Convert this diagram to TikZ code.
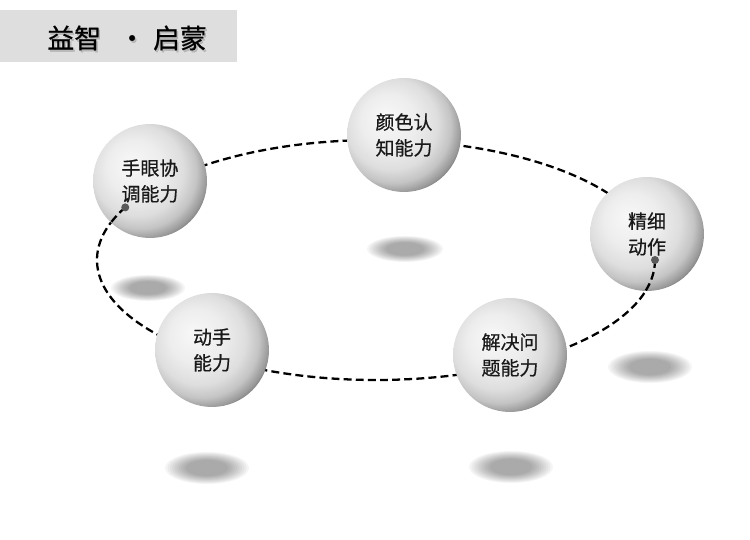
\documentclass[tikz,border=0pt]{standalone}
\usepackage{fontspec}
\setmainfont{Noto Sans CJK SC}
\newfontface\heavyface{Noto Sans CJK SC}[FakeBold=0.6]
\usetikzlibrary{positioning}
\pgfdeclareradialshading{sphere}{\pgfpoint{-9bp}{8bp}}{color(0bp)=(white!97!black); color(12bp)=(white!93!black); color(20bp)=(white!87!black); color(25bp)=(white!77!black); color(28.7bp)=(white!60!black); color(30.5bp)=(white!46!black); color(33bp)=(white!40!black); color(50bp)=(white!40!black)}
\tikzset{
    skill/.style={circle, shading=sphere, minimum size=2.28cm, inner sep=0pt, align=center, text=black!90, font=\heavyface\fontsize{10.8}{14.7}\selectfont},
    puddle/.style={fill=black, opacity=0.04},
    orbitline/.style={draw=black, line width=1.3pt, dash pattern=on 4.5pt off 2.4pt},
    tipdot/.style={fill=black!65},
    banner/.style={fill=black!13, minimum width=4.74cm, minimum height=1.04cm, inner sep=0pt},
    headline/.style={anchor=west, inner sep=0pt, font=\heavyface\fontsize{15.3}{18}\selectfont}
}
\newcommand{\headtext}{益智\makebox[1.04cm]{\hspace{0.2cm}·}启蒙}
% soft floor shadow: centre, x radius, y radius
\newcommand{\floorshade}[4]{%
  \foreach \k in {0,...,9}
    \fill[puddle] (#1,#2) ellipse [x radius={#3*(1-0.055*\k)}, y radius={#4*(1-0.055*\k)}];
}

\begin{document}
\begin{tikzpicture}[x=0.02cm, y=0.02cm]
\useasboundingbox (0,0) rectangle (750,540);

% Title
\node (band) [banner] at (118.5,504) {};
\node [headline, text=black!45, opacity=0.45] at (48.5,500) {\headtext};
\node (title) [headline] at (47,502) {\headtext};

% Shadows on the floor
\floorshade{405}{291}{38}{13}
\floorshade{148}{252}{37}{13}
\floorshade{650}{173}{42}{16}
\floorshade{207}{72}{42}{16}
\floorshade{511}{73}{42}{16}

% Orbit
\coordinate (orbit) at (376,280);
\draw[orbitline] (orbit) ellipse [x radius=279, y radius=120];

% Skills
\node (colour) [skill] at (404,405) {颜色认\\知能力};
\node (handeye) [skill] at (150,359) {手眼协\\调能力};
\node (fine) [skill] at (647,306) {精细\\动作};
\node (handson) [skill] at (212,190) {动手\\能力};
\node (solve) [skill] at (510,185) {解决问\\题能力};

% Orbit ends in front of two spheres
\path (orbit) ++(154:279 and 120) coordinate (tipA);
\path (orbit) ++(0:279 and 120) coordinate (tipB);
\begin{scope}
\clip (handeye.center) circle (57);
\draw[orbitline] (tipA) arc [start angle=154, end angle=215, x radius=279, y radius=120];
\end{scope}
\begin{scope}
\clip (fine.center) circle (57);
\draw[orbitline] (tipB) arc [start angle=360, end angle=300, x radius=279, y radius=120];
\end{scope}
\fill[tipdot] (tipA) circle (4);
\fill[tipdot] (tipB) circle (4);

\end{tikzpicture}
\end{document}
